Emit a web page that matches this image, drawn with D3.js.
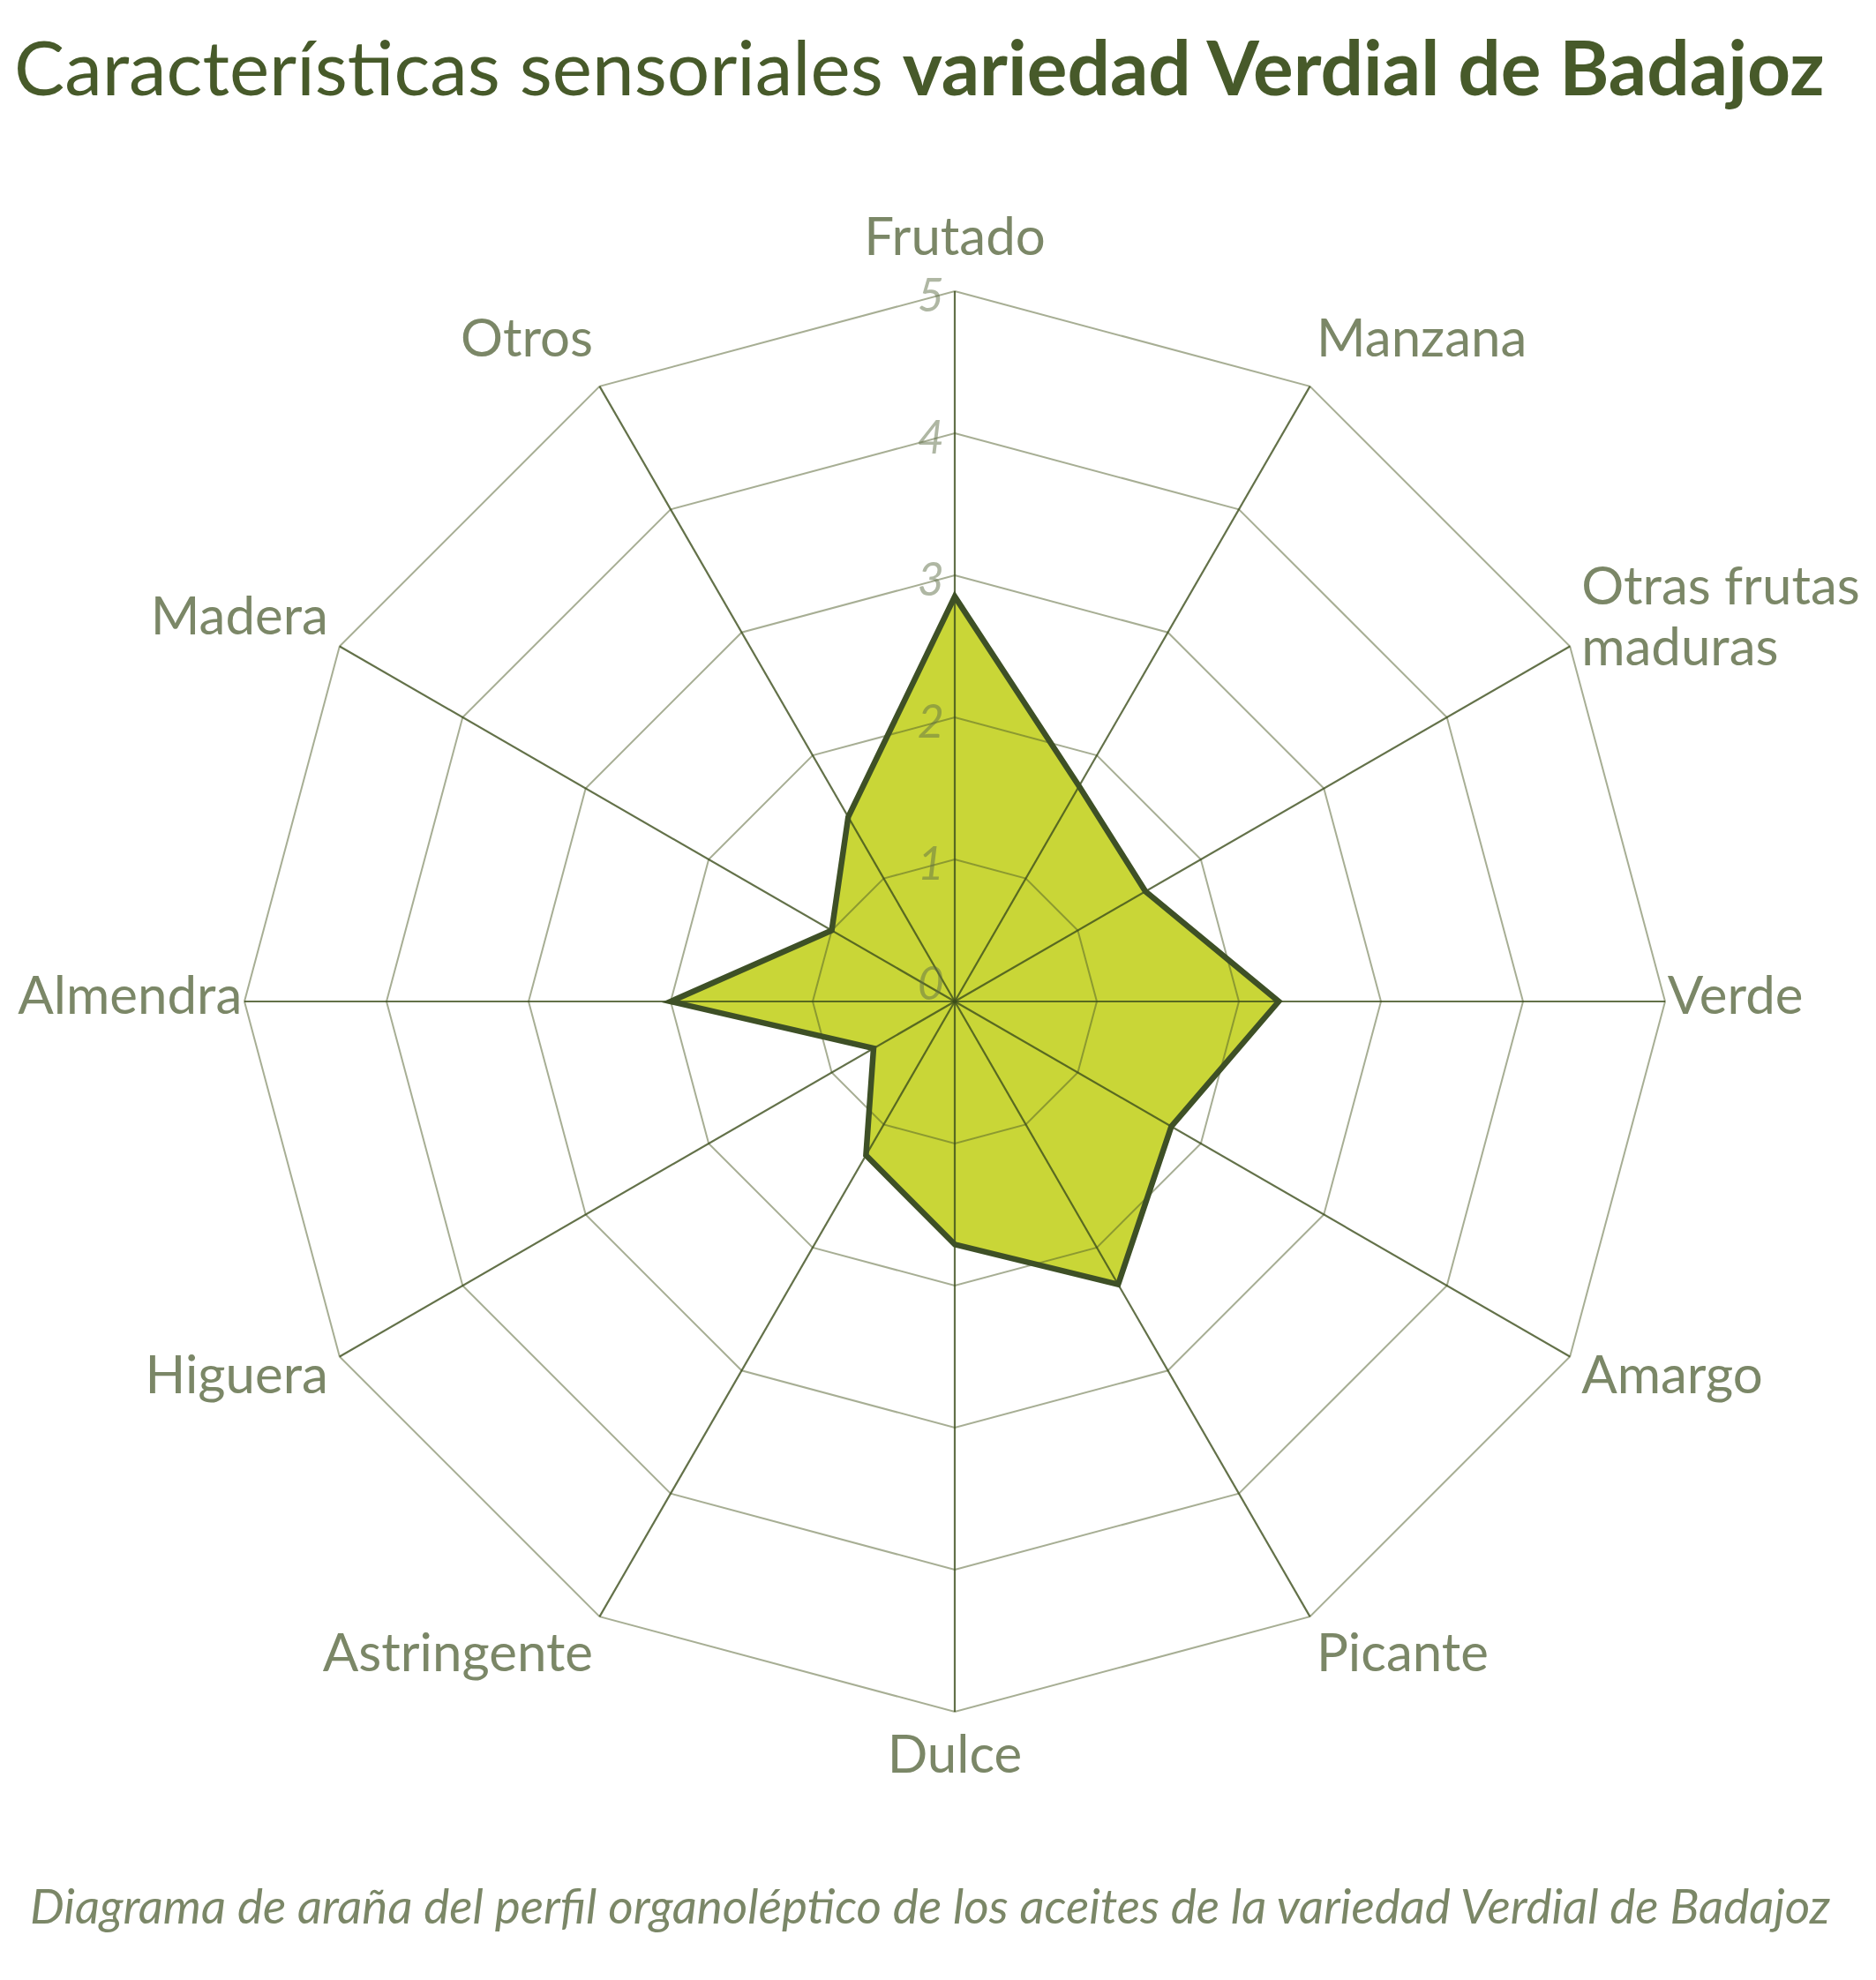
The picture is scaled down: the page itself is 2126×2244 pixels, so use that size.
<!DOCTYPE html>
<html>
<head>
<meta charset="utf-8">
<script src="https://cdn.jsdelivr.net/npm/d3@7"></script>
<style>
  html, body { margin: 0; padding: 0; background: #ffffff; }
  svg { display: block; }
</style>
</head>
<body>
<svg id="chart" width="2126" height="2244"></svg>
<script>
const categories = ["Frutado", "Manzana", "Otras frutas maduras", "Verde", "Amargo", "Picante",
                    "Dulce", "Astringente", "Higuera", "Almendra", "Madera", "Otros"];
const values = [2.85, 1.75, 1.55, 2.28, 1.76, 2.3, 1.71, 1.25, 0.66, 2.0, 1.0, 1.5];
const ticks = [0, 1, 2, 3, 4, 5];
const titleRegular = "Características sensoriales ";
const titleBold = "variedad Verdial de Badajoz";
const subtitle = "Diagrama de araña del perfil organoléptico de los aceites de la variedad Verdial de Badajoz";

const W = 2126, H = 2244;
const cx = 1082, cy = 1135, R = 805;
const FONT = "Lato, 'Open Sans', sans-serif";
const labelColor = "#7b8767";
const titleColor = "#475a2a";

const svg = d3.select("#chart");
const r = d3.scaleLinear().domain([0, 5]).range([0, R]);
const angle = d3.scaleLinear().domain([0, categories.length]).range([0, 2 * Math.PI]);

// Gradient for fill
const defs = svg.append("defs");
const grad = defs.append("linearGradient")
  .attr("id", "fillGrad")
  .attr("gradientUnits", "userSpaceOnUse")
  .attr("x1", 0).attr("x2", 0)
  .attr("y1", cy - r(2.9)).attr("y2", cy + r(2.1));
grad.append("stop").attr("offset", "0%").attr("stop-color", "#c9d637");
grad.append("stop").attr("offset", "100%").attr("stop-color", "#a3bd4d");

const g = svg.append("g").attr("transform", `translate(${cx},${cy})`);

const pt = (i, v) => {
  const a = angle(i);
  return [Math.sin(a) * r(v), -Math.cos(a) * r(v)];
};

// Data fill
const radial = d3.lineRadial()
  .angle((d, i) => angle(i))
  .radius(d => r(d))
  .curve(d3.curveLinearClosed);

g.append("path")
  .datum(values)
  .attr("d", radial)
  .attr("fill", "url(#fillGrad)")
  .attr("stroke", "none");

// Rings
g.selectAll("path.ring")
  .data(ticks.filter(t => t > 0))
  .join("path")
  .attr("class", "ring")
  .attr("d", t => radial(categories.map(() => t)))
  .attr("fill", "none")
  .attr("stroke", "#4f5e2a")
  .attr("stroke-opacity", 0.5)
  .attr("stroke-width", 2);

// Axes
g.selectAll("line.axis")
  .data(categories)
  .join("line")
  .attr("class", "axis")
  .attr("x1", 0).attr("y1", 0)
  .attr("x2", (d, i) => pt(i, 5)[0])
  .attr("y2", (d, i) => pt(i, 5)[1])
  .attr("stroke", "#3c4d1c")
  .attr("stroke-opacity", 0.8)
  .attr("stroke-width", 2.2);

// Data outline
g.append("path")
  .datum(values)
  .attr("d", radial)
  .attr("fill", "none")
  .attr("stroke", "#3e5026")
  .attr("stroke-width", 6.5)
  .attr("stroke-linejoin", "miter");

// Tick labels
g.selectAll("text.tick")
  .data(ticks)
  .join("text")
  .attr("class", "tick")
  .attr("x", -12)
  .attr("y", t => -r(t) + (t === 0 ? -22 : 3))
  .attr("text-anchor", "end")
  .attr("dominant-baseline", "central")
  .attr("font-family", FONT)
  .attr("font-style", "italic")
  .attr("font-size", 52)
  .attr("fill", "#5f7048")
  .attr("fill-opacity", 0.5)
  .text(t => t);

// Category labels
const Rx = 820, Ry = 860, dyAll = -9;
const lab = g.selectAll("text.cat")
  .data(categories)
  .join("text")
  .attr("class", "cat")
  .attr("font-family", FONT)
  .attr("font-size", 60)
  .attr("fill", labelColor)
  .attr("text-anchor", (d, i) => {
    const s = Math.sin(angle(i));
    return Math.abs(s) < 0.1 ? "middle" : (s > 0 ? "start" : "end");
  })
  .attr("dominant-baseline", "central")
  .attr("transform", (d, i) => {
    const a = angle(i);
    const horiz = Math.abs(Math.cos(a)) < 0.1 ? 0.985 : 1;
    return `translate(${Math.sin(a) * Rx * horiz},${-Math.cos(a) * Ry + dyAll})`;
  });

lab.each(function(d) {
  const t = d3.select(this);
  if (d === "Otras frutas maduras") {
    const lines = ["Otras frutas", "maduras"];
    lines.forEach((ln, k) => {
      t.append("tspan")
        .attr("x", 0)
        .attr("y", (k - (lines.length - 1) / 2) * 69)
        .text(ln);
    });
  } else {
    t.text(d);
  }
});

// Title
const title = svg.append("text")
  .attr("x", 16)
  .attr("y", 108)
  .attr("font-family", FONT)
  .attr("font-size", 80)
  .attr("fill", titleColor);
title.append("tspan").attr("font-weight", 400).text(titleRegular);
title.append("tspan").attr("font-weight", 700).text(titleBold);
{
  const w = title.node().getComputedTextLength();
  const target = 2052;
  title.attr("font-size", 80 * target / w);
}

// Subtitle
const sub = svg.append("text")
  .attr("x", 34)
  .attr("y", 2180)
  .attr("font-family", FONT)
  .attr("font-style", "italic")
  .attr("font-weight", 400)
  .attr("font-size", 51)
  .attr("fill", labelColor)
  .text(subtitle);
{
  const w = sub.node().getComputedTextLength();
  const target = 2040;
  sub.attr("font-size", 51 * target / w);
}
</script>
</body>
</html>
